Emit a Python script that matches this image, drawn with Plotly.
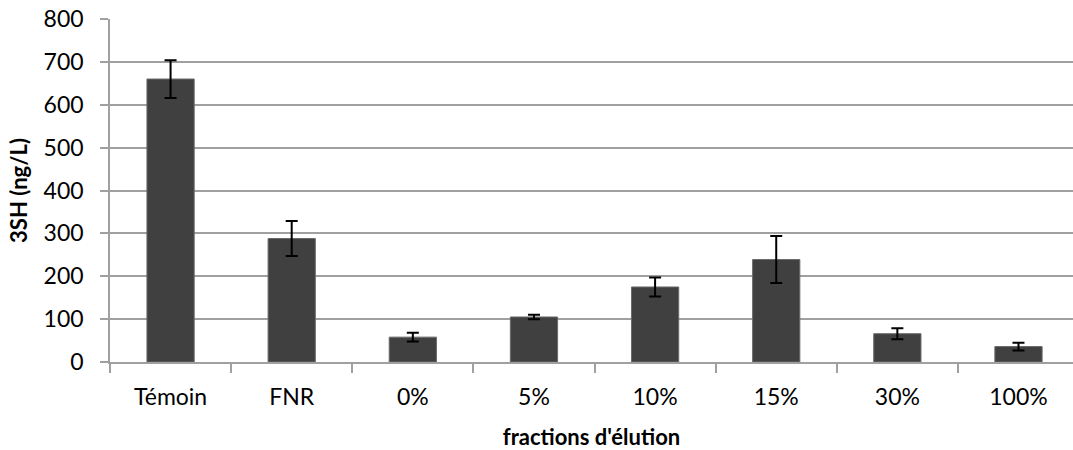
import plotly.graph_objects as go

# Fractions and measured 3SH concentrations (ng/L) with their standard deviations
categories = ["Témoin", "FNR", "0%", "5%", "10%", "15%", "30%", "100%"]
values = [660, 288, 58, 105, 175, 239, 66, 36]
errors = [44, 41, 10, 5, 22, 55, 13, 9]
y_ticks = [0, 100, 200, 300, 400, 500, 600, 700, 800]

FONT = "Lato"
GRID = "#a0a0a0"
TICK_SIZE = 23
TITLE_SIZE = 22

fig = go.Figure(
    go.Bar(
        x=categories,
        y=values,
        width=0.39,
        marker=dict(color="#404040", line=dict(color="#6a6a6a", width=1)),
        error_y=dict(type="data", array=errors, visible=True,
                     color="#000000", thickness=2, width=6),
    )
)

fig.update_layout(
    width=1073,
    height=450,
    margin=dict(l=110, r=0, t=19, b=88),
    paper_bgcolor="white",
    plot_bgcolor="white",
    showlegend=False,
    font=dict(family=FONT, size=TICK_SIZE, color="#000000"),
)

fig.update_xaxes(
    range=[-0.5, 7.45],
    showgrid=False,
    showline=True,
    linecolor=GRID,
    linewidth=1.5,
    ticks="outside",
    tickson="boundaries",
    ticklen=9,
    tickcolor=GRID,
    tickwidth=1.5,
    ticklabelstandoff=14,
    tickfont=dict(family=FONT, size=TICK_SIZE),
    title=dict(text="<b>fractions d'élution</b>", font=dict(family=FONT, size=TITLE_SIZE), standoff=22),
)

fig.update_yaxes(
    range=[0, 800],
    tickvals=y_ticks,
    showgrid=True,
    gridcolor=GRID,
    gridwidth=1.5,
    zeroline=False,
    showline=True,
    linecolor=GRID,
    linewidth=1.5,
    ticks="outside",
    ticklen=8,
    tickcolor=GRID,
    tickwidth=1.5,
    ticklabelstandoff=12,
    tickfont=dict(family=FONT, size=TICK_SIZE),
    title=dict(text="<b>3SH (ng/L)</b>", font=dict(family=FONT, size=TITLE_SIZE), standoff=10),
)

fig.write_html("out.html")
